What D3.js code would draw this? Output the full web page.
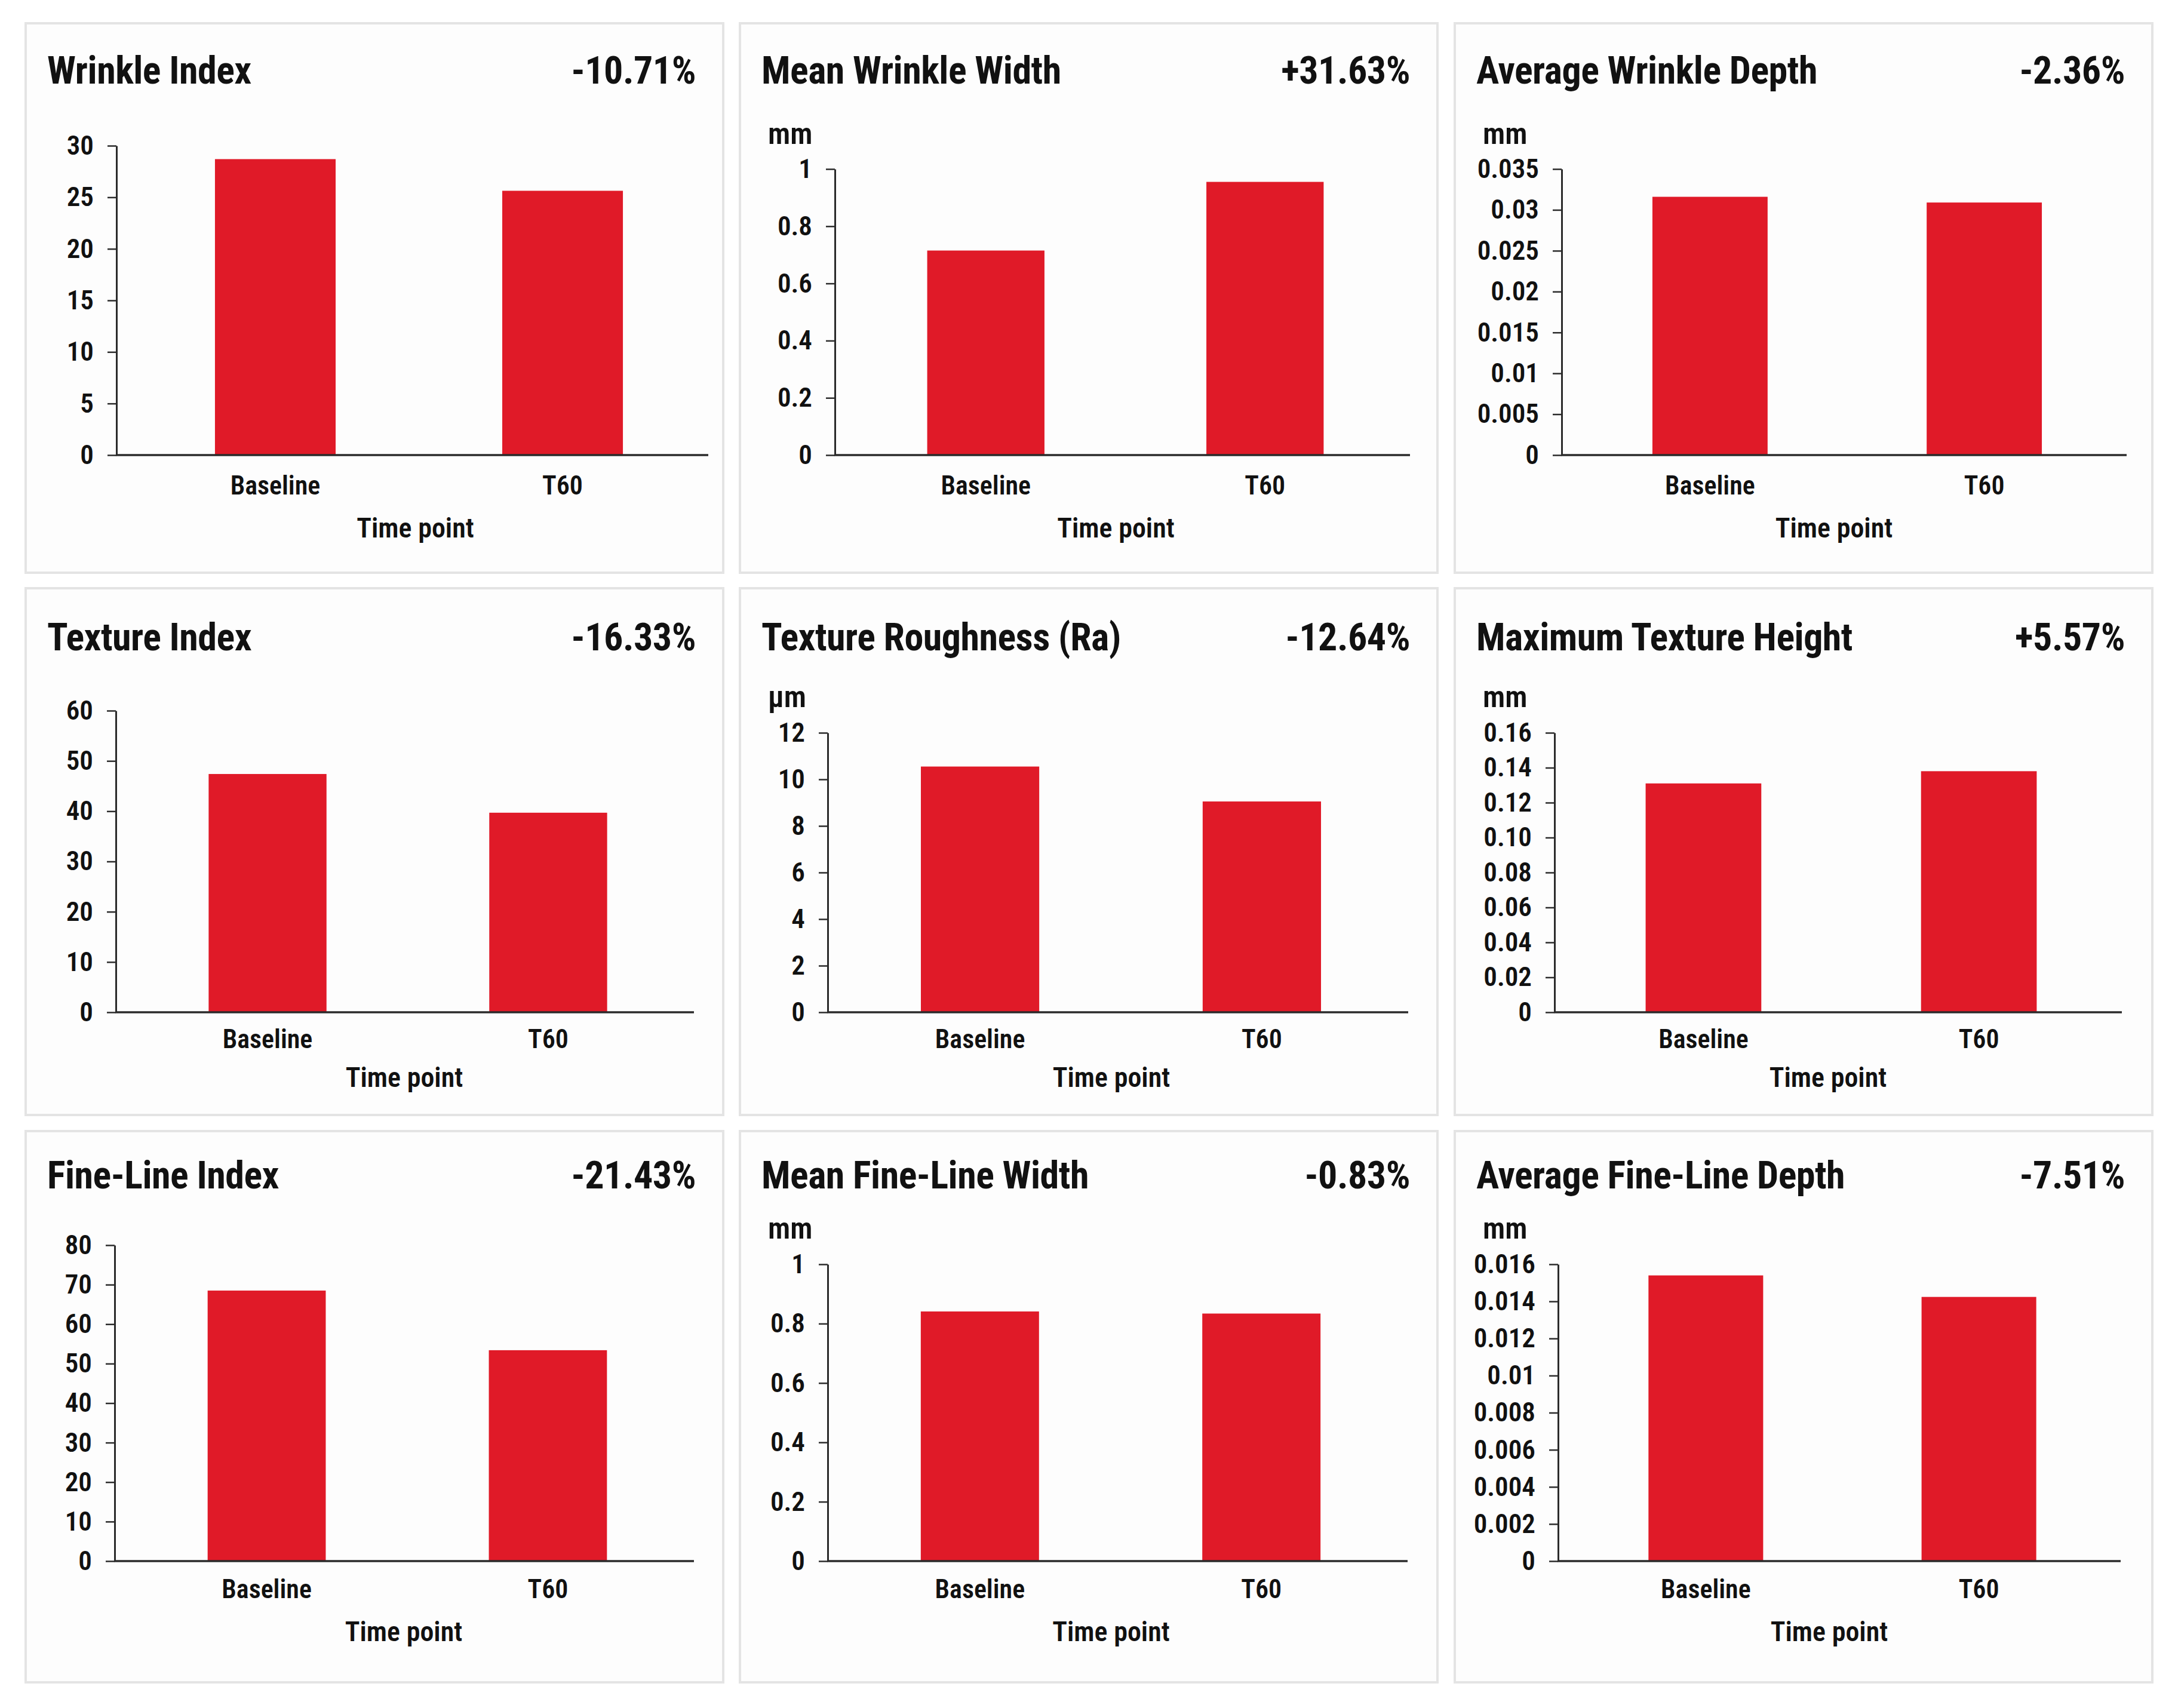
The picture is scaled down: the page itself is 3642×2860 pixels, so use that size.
<!DOCTYPE html>
<html>
<head>
<meta charset="utf-8">
<script src="https://cdn.jsdelivr.net/npm/d3@7"></script>
<style>
    html, body { margin: 0; padding: 0; background: #ffffff; }
    svg { display: block; }
</style>
</head>
<body>
<div id="chart"></div>
<script>
// ---- data ----
const panelTitles = [
    "Wrinkle Index", "Mean Wrinkle Width", "Average Wrinkle Depth",
    "Texture Index", "Texture Roughness (Ra)", "Maximum Texture Height",
    "Fine-Line Index", "Mean Fine-Line Width", "Average Fine-Line Depth"
];
const panelChanges = ["-10.71%", "+31.63%", "-2.36%", "-16.33%", "-12.64%", "+5.57%", "-21.43%", "-0.83%", "-7.51%"];
const panelUnits = ["", "mm", "mm", "", "µm", "mm", "", "mm", "mm"];
const categories = ["Baseline", "T60"];
const baselineValues = [28.7, 0.715, 0.0316, 47.4, 10.55, 0.131, 68.5, 0.841, 0.0154];
const t60Values = [25.63, 0.955, 0.0309, 39.7, 9.05, 0.138, 53.4, 0.834, 0.01424];
const yTickLabels = [
    ["0", "5", "10", "15", "20", "25", "30"],
    ["0", "0.2", "0.4", "0.6", "0.8", "1"],
    ["0", "0.005", "0.01", "0.015", "0.02", "0.025", "0.03", "0.035"],
    ["0", "10", "20", "30", "40", "50", "60"],
    ["0", "2", "4", "6", "8", "10", "12"],
    ["0", "0.02", "0.04", "0.06", "0.08", "0.10", "0.12", "0.14", "0.16"],
    ["0", "10", "20", "30", "40", "50", "60", "70", "80"],
    ["0", "0.2", "0.4", "0.6", "0.8", "1"],
    ["0", "0.002", "0.004", "0.006", "0.008", "0.01", "0.012", "0.014", "0.016"]
];
const xAxisTitle = "Time point";

// ---- layout ----
const W = 3642, H = 2860;
const colLefts = [43, 1239, 2436];
const panelW = 1168;
const rowTops = [39, 985, 1894];
const rowHeights = [920, 882, 923];
// vertical offsets inside a panel, one per row
const titleOff = [101, 104, 96];
const unitOff = [202, 199, 180];
const topTickWithUnit = [244, 242, 223];
const topTickPlain = [205, 205, 191];
const zeroOff = [723, 710, 720];
const catLabelOff = [66, 60, 62];
const axisTitleOff = [861, 835, 854];
// axis title sits a little left of the bars' midpoint, per column
const axisTitleShift = [-6, -16, -22];
// horizontal plot insets, one per panel
const plotLeftInset = [152, 159, 179, 151, 147, 167, 149, 147, 173];
const plotRightInset = [25, 46, 43, 49, 49, 51, 49, 50, 53];
const barShift = [11, 5, 5, 5, 5, 5, 5, 5, 5];

const font = "'Roboto Condensed', 'Liberation Sans Narrow', 'DejaVu Sans Condensed', 'Arial Narrow', sans-serif";
const barColor = "#e01a28";
const inkColor = "#111111";
const axisColor = "#2b2b2b";

const svg = d3.select("#chart").append("svg")
    .attr("width", W)
    .attr("height", H)
    .attr("viewBox", `0 0 ${W} ${H}`)
    .style("font-family", font);

svg.append("rect").attr("width", W).attr("height", H).attr("fill", "#ffffff");

panelTitles.forEach((title, i) => {
    const r = Math.floor(i / 3), c = i % 3;
    const x0 = colLefts[c], y0 = rowTops[r];
    const g = svg.append("g").attr("class", `panel panel-${i}`);

    g.append("rect")
        .attr("x", x0).attr("y", y0)
        .attr("width", panelW).attr("height", rowHeights[r])
        .attr("fill", "#fdfdfd")
        .attr("stroke", "#e4e4e4")
        .attr("stroke-width", 4);

    g.append("text")
        .attr("x", x0 + 36)
        .attr("y", y0 + titleOff[r])
        .attr("fill", inkColor)
        .style("font-size", "64px")
        .style("font-weight", 700)
        .style("letter-spacing", "-0.5px")
        .text(title);

    g.append("text")
        .attr("x", x0 + panelW - 46)
        .attr("y", y0 + titleOff[r])
        .attr("text-anchor", "end")
        .attr("fill", inkColor)
        .style("font-size", "64px")
        .style("font-weight", 700)
        .style("letter-spacing", "-0.5px")
        .text(panelChanges[i]);

    if (panelUnits[i]) {
        g.append("text")
            .attr("x", x0 + 47)
            .attr("y", y0 + unitOff[r])
            .attr("fill", inkColor)
            .style("font-size", "50px")
            .style("font-weight", 600)
            .text(panelUnits[i]);
    }

    const axisX = x0 + plotLeftInset[i];
    const axisEnd = x0 + panelW - plotRightInset[i];
    const zeroY = y0 + zeroOff[r];
    const topY = y0 + (panelUnits[i] ? topTickWithUnit[r] : topTickPlain[r]);

    const tickVals = yTickLabels[i].map(Number);
    const y = d3.scaleLinear()
        .domain([0, d3.max(tickVals)])
        .range([zeroY, topY]);

    const x = d3.scaleBand()
        .domain(categories)
        .range([axisX + barShift[i], axisEnd + barShift[i]])
        .paddingInner(0.58)
        .paddingOuter(0.32);

    const values = [baselineValues[i], t60Values[i]];

    g.append("g").attr("class", "bars")
        .selectAll("rect")
        .data(categories.map((cat, j) => ({ cat, v: values[j] })))
        .join("rect")
        .attr("x", d => x(d.cat))
        .attr("y", d => y(d.v))
        .attr("width", x.bandwidth())
        .attr("height", d => y(0) - y(d.v))
        .attr("fill", barColor);

    const yAxis = g.append("g")
        .attr("class", "y-axis")
        .attr("transform", `translate(${axisX},0)`)
        .call(d3.axisLeft(y)
            .tickValues(tickVals)
            .tickFormat((d, k) => yTickLabels[i][k])
            .tickSize(15)
            .tickSizeOuter(0)
            .tickPadding(23));
    yAxis.select(".domain").attr("stroke", axisColor).attr("stroke-width", 3);
    yAxis.selectAll(".tick line").attr("stroke", axisColor).attr("stroke-width", 2.5);
    yAxis.selectAll(".tick text")
        .attr("fill", inkColor)
        .style("font-size", "45px")
        .style("font-weight", 600)
        .style("font-family", font);

    const xAxis = g.append("g")
        .attr("class", "x-axis")
        .attr("transform", `translate(0,${zeroY})`)
        .call(d3.axisBottom(x).tickSize(0).tickSizeOuter(0));
    xAxis.select(".domain").remove();
    xAxis.selectAll(".tick text")
        .attr("y", catLabelOff[r])
        .attr("dy", 0)
        .attr("fill", inkColor)
        .style("font-size", "44px")
        .style("font-weight", 600)
        .style("font-family", font);

    g.append("line")
        .attr("x1", axisX - 1).attr("x2", axisEnd)
        .attr("y1", zeroY).attr("y2", zeroY)
        .attr("stroke", axisColor)
        .attr("stroke-width", 3.5);

    const barMid = d3.mean(categories, cat => x(cat) + x.bandwidth() / 2);
    g.append("text")
        .attr("x", barMid + axisTitleShift[c])
        .attr("y", y0 + axisTitleOff[r])
        .attr("text-anchor", "middle")
        .attr("fill", inkColor)
        .style("font-size", "46px")
        .style("font-weight", 600)
        .text(xAxisTitle);
});
</script>
</body>
</html>
